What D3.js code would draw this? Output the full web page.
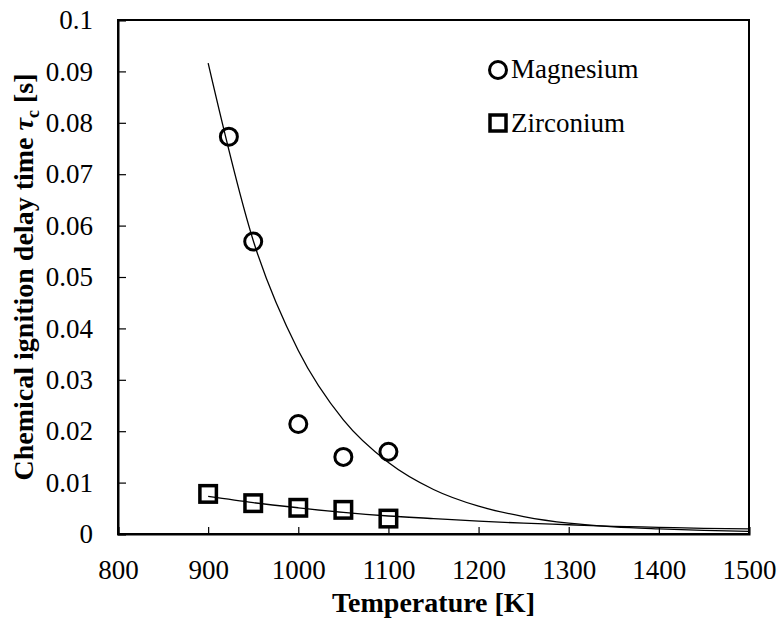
<!DOCTYPE html>
<html>
<head>
<meta charset="utf-8">
<script src="https://cdn.jsdelivr.net/npm/d3@7"></script>
<style>
  html, body { margin: 0; padding: 0; background: #fff; }
  svg { display: block; }
  svg text { font-family: "Liberation Serif", "Times New Roman", Times, "Nimbus Roman", "DejaVu Serif", serif; fill: #000; }
</style>
</head>
<body>
<svg id="chart" width="782" height="627"></svg>
<script>
// Measured ignition delay times
const mgTemp = [923, 950, 1000, 1050, 1100];
const mgTau  = [0.0773, 0.0569, 0.0214, 0.0150, 0.0160];
const zrTemp = [900, 950, 1000, 1050, 1100];
const zrTau  = [0.0078, 0.0060, 0.0051, 0.0047, 0.0030];

// Fitted trend curves
const fitTemp  = [900, 950, 1000, 1050, 1100, 1150, 1200, 1250, 1300, 1350, 1400, 1450, 1500];
const mgFitTau = [0.0916, 0.0571, 0.0357, 0.0222, 0.0139, 0.00865, 0.0054, 0.0034, 0.0021, 0.0014, 0.0010, 0.0007, 0.0005];
const zrFitTau = [0.0073, 0.0061, 0.0051, 0.0042, 0.0035, 0.0030, 0.0025, 0.0021, 0.0018, 0.0015, 0.0013, 0.0011, 0.0010];

// Axis ticks
const xTicks = [800, 900, 1000, 1100, 1200, 1300, 1400, 1500];
const yTicks = [0, 0.01, 0.02, 0.03, 0.04, 0.05, 0.06, 0.07, 0.08, 0.09, 0.1];

const serif = '"Liberation Serif", "Times New Roman", Times, serif';
const svg = d3.select("#chart").attr("font-family", serif);
const plotLeft = 118, plotRight = 749, plotTop = 20, plotBottom = 534;

const x = d3.scaleLinear().domain([800, 1500]).range([plotLeft, plotRight]);
const y = d3.scaleLinear().domain([0, 0.1]).range([plotBottom, plotTop]);

// Frame
svg.append("rect")
  .attr("x", plotLeft).attr("y", plotTop)
  .attr("width", plotRight - plotLeft).attr("height", plotBottom - plotTop)
  .attr("fill", "none").attr("stroke", "#000").attr("stroke-width", 2);

// Axes with inward ticks
const xAxis = svg.append("g")
  .attr("transform", `translate(0,${plotBottom})`)
  .call(d3.axisBottom(x).tickValues(xTicks).tickSize(-7).tickPadding(26).tickFormat(d3.format("d")));
const yAxis = svg.append("g")
  .attr("transform", `translate(${plotLeft},0)`)
  .call(d3.axisLeft(y).tickValues(yTicks).tickSize(-8).tickPadding(25)
    .tickFormat(d => d === 0 ? "0" : String(+d.toFixed(2))));

[xAxis, yAxis].forEach(g => {
  g.attr("font-family", serif).attr("font-size", 27);
  g.select(".domain").attr("stroke", "#000").attr("stroke-width", 2);
  g.selectAll(".tick line").attr("stroke", "#000").attr("stroke-width", 1.2);
  g.selectAll(".tick text").attr("fill", "#000");
});
xAxis.selectAll(".tick text").attr("dy", "0.71em");

// Trend curves
const line = d3.line().x(d => x(d[0])).y(d => y(d[1])).curve(d3.curveMonotoneX);
[mgFitTau, zrFitTau].forEach(vals => {
  svg.append("path")
    .datum(fitTemp.map((t, i) => [t, vals[i]]))
    .attr("d", line)
    .attr("fill", "none").attr("stroke", "#000").attr("stroke-width", 1.3);
});

// Magnesium markers
svg.append("g").selectAll("circle")
  .data(mgTemp.map((t, i) => [t, mgTau[i]]))
  .join("circle")
  .attr("cx", d => x(d[0])).attr("cy", d => y(d[1])).attr("r", 8.5)
  .attr("fill", "none").attr("stroke", "#000").attr("stroke-width", 3);

// Zirconium markers
const sq = 16.5;
svg.append("g").selectAll("rect")
  .data(zrTemp.map((t, i) => [t, zrTau[i]]))
  .join("rect")
  .attr("x", d => x(d[0]) - sq / 2).attr("y", d => y(d[1]) - sq / 2)
  .attr("width", sq).attr("height", sq)
  .attr("fill", "none").attr("stroke", "#000").attr("stroke-width", 3.5);

// Legend
const legend = svg.append("g").attr("font-size", 27);
legend.append("circle").attr("cx", 498).attr("cy", 70).attr("r", 8.5)
  .attr("fill", "none").attr("stroke", "#000").attr("stroke-width", 3);
legend.append("text").attr("x", 511).attr("y", 78).text("Magnesium");
legend.append("rect").attr("x", 498 - 8).attr("y", 123 - 8).attr("width", 16).attr("height", 16)
  .attr("fill", "none").attr("stroke", "#000").attr("stroke-width", 3.5);
legend.append("text").attr("x", 511).attr("y", 132).text("Zirconium");

// Axis titles
svg.append("text")
  .attr("x", (plotLeft + plotRight) / 2).attr("y", 612)
  .attr("text-anchor", "middle")
  .attr("font-size", 28).attr("font-weight", "bold")
  .text("Temperature [K]");

const yTitle = svg.append("text")
  .attr("transform", `translate(33,${(plotTop + plotBottom) / 2}) rotate(-90)`)
  .attr("text-anchor", "middle")
  .attr("font-size", 28).attr("font-weight", "bold");
yTitle.append("tspan").text("Chemical ignition delay time ");
yTitle.append("tspan").attr("font-style", "italic").text("τ");
yTitle.append("tspan").attr("dy", 6).attr("font-size", 18).text("c");
yTitle.append("tspan").attr("dy", -6).text(" [s]");
</script>
</body>
</html>
